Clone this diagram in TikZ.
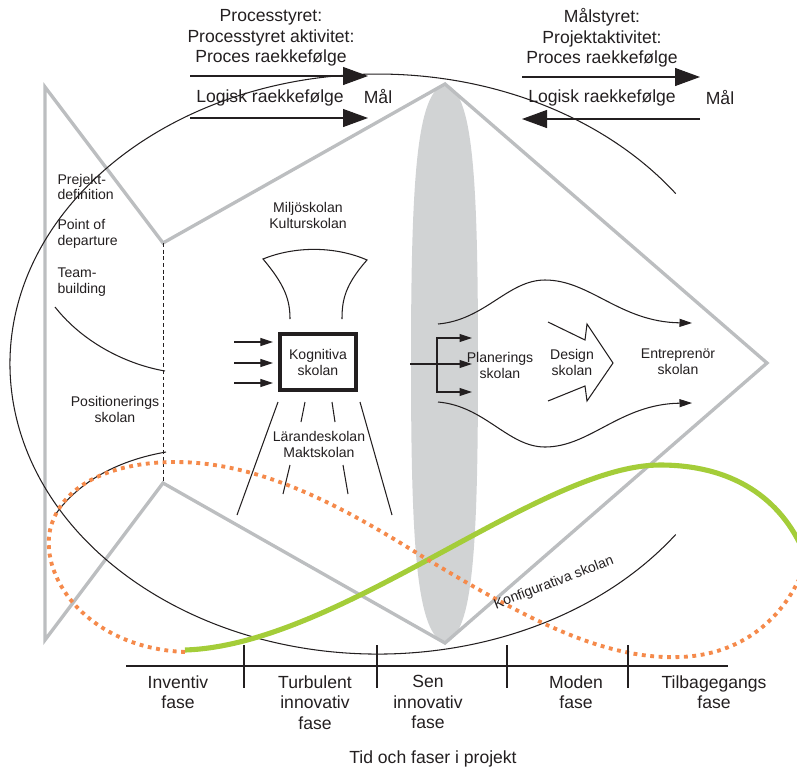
\documentclass[tikz,border=0pt]{standalone}
\usepackage{fontspec}
\setmainfont{Liberation Sans}
\usetikzlibrary{arrows.meta}
\definecolor{cfish}{HTML}{BCBEC0}
\definecolor{clens}{HTML}{D1D3D4}
\definecolor{cgreen}{HTML}{A4CD39}
\definecolor{corange}{HTML}{F58A4B}
\definecolor{cink}{HTML}{231F20}
\tikzset{
  every picture/.style={line width=0.6pt},
  fish/.style={draw=cfish, line width=1.9pt, line join=miter},
  thin/.style={draw=cink, line width=0.6pt},
  axis/.style={draw=cink, line width=1pt},
  bigarrow/.style={-{Triangle[length=5mm, width=3.6mm]}, draw=cink, line width=0.6pt},
  smallarrow/.style={-{Triangle[length=2.5mm, width=1.6mm]}, draw=cink, line width=0.6pt},
  head/.style={font=\fontsize{10}{11.6}\selectfont, text=cink, align=center, inner sep=0pt},
  note/.style={font=\fontsize{8}{9.1}\selectfont, text=cink, align=center, inner sep=0pt},
}
\begin{document}
\begin{tikzpicture}[x=0.02cm, y=-0.02cm]
  \useasboundingbox (0,0) rectangle (797,771);
  \clip (0,0) rectangle (797,771);
  % lens and fish outline
  \fill[clens] (445,84) .. controls (473,92) and (478,175) .. (478,363)
    .. controls (478,550) and (473,634) .. (445,643)
    .. controls (417,634) and (411,550) .. (411,363)
    .. controls (411,175) and (417,92) .. (445,84) -- cycle;
  \draw[fish] (45,87) -- (163,243) -- (445,84) -- (767,363) -- (445,643)
    -- (163,483) -- (45,640) -- cycle;
  % big ellipse, open on the right
  \draw[thin] (675.7,534.5) arc[start angle=36, end angle=324, x radius=368, y radius=290];
  % tail
  \draw[thin, dash pattern=on 2.2pt off 1.6pt, line width=0.5pt] (163,243) -- (163,483);
  \draw[thin] (55,307) .. controls (85,345) and (130,365) .. (165,371);
  \draw[thin] (55,515) .. controls (80,480) and (120,460) .. (166,452);
  \node[note, align=left, anchor=west, font=\fontsize{8}{8.4}\selectfont] (prej) at (57,187) {Prejekt-\\definition};
  \node[note, align=left, anchor=west] (point) at (57,234) {Point of\\departure};
  \node[note, align=left, anchor=west] (team) at (57,282) {Team-\\building};
  \node[note] (pos) at (115,409) {Positionerings\\skolan};

  % top: process and goal steering
  \node[head] (procL) at (271,38) {Processtyret:\\Processtyret aktivitet:\\Proces raekkefølge};
  \node[head] (logL) at (270,98) {Logisk raekkefølge};
  \node[head] (malL) at (378,97) {Mål};
  \node[head] (procR) at (602,38) {Målstyret:\\Projektaktivitet:\\Proces raekkefølge};
  \node[head] (logR) at (602,98) {Logisk raekkefølge};
  \node[head] (malR) at (720,98) {Mål};
  \foreach \i/\xa/\xb/\y in {1/190/368/76, 2/190/368/118, 3/522/700/77, 4/700/522/119} {
    \coordinate (a\i) at (\xa,\y);
    \coordinate (b\i) at (\xb,\y);
    \draw[bigarrow] (a\i) -- (b\i);
  }

  % cognitive school
  \node[note] (milj) at (308,215) {Miljöskolan\\Kulturskolan};
  \draw[thin] (290,319) .. controls (290,300) and (285,285) .. (263,259)
    .. controls (295,246) and (335,246) .. (367,260)
    .. controls (345,285) and (342,300) .. (342,319);
  \node[note, draw=cink, line width=1.8pt, minimum width=1.52cm, minimum height=1.12cm] (kog) at (318,362) {Kognitiva\\skolan};
  \foreach \i/\y in {1/342, 2/363, 3/383} {
    \coordinate (in\i) at (234,\y);
    \draw[smallarrow, shorten >=1.1mm] (in\i) -- (in\i -| kog.west);
  }
  \draw[thin] (278,402) -- (237,515);
  \draw[thin] (305,402) -- (301,422) (290,465) -- (283,494);
  \draw[thin] (332,402) -- (335,422) (343,465) -- (348,494);
  \draw[thin] (360,402) -- (392,515);
  \node[note] (lar) at (319,444) {Lärandeskolan\\Maktskolan};

  % planning, design and entrepreneur schools
  \coordinate (lensin) at (410,364);
  \coordinate (fork) at (437,364);
  \draw[smallarrow] (lensin) -- (472,364);
  \draw[smallarrow] (fork) |- (472,338);
  \draw[smallarrow] (fork) |- (472,392);
  \node[note] (plan) at (500,365) {Planerings\\skolan};
  \node[note] (design) at (572,362) {Design\\skolan};
  \draw[thin, line join=miter] (548,322) -- (585,340) -- (587,324) -- (613,363)
    -- (587,401) -- (585,386) -- (548,401);
  \node[note] (entr) at (678,362) {Entreprenör\\skolan};
  \draw[smallarrow] (438,324) .. controls (485,320) and (508,280) .. (545,280)
    .. controls (590,280) and (620,322) .. (692,323);
  \draw[smallarrow] (438,402) .. controls (485,406) and (508,447) .. (545,447)
    .. controls (590,447) and (620,404) .. (692,403);

  % life cycle curves
  \draw[cgreen, line width=2.9pt] (185,650) .. controls (340,645) and (540,465) .. (660,465)
    .. controls (740,465) and (785,505) .. (805,555);
  \draw[corange, line width=2.2pt, dash pattern=on 2.2pt off 2.6pt] (185,652)
    .. controls (90,648) and (40,580) .. (50,530)
    .. controls (62,480) and (120,462) .. (175,462)
    .. controls (260,462) and (340,505) .. (420,555)
    .. controls (520,615) and (600,660) .. (680,657)
    .. controls (740,655) and (785,620) .. (805,565);
  \node[note, rotate=21] (konf) at (554,583) {Konfigurativa skolan};

  % time axis with phases
  \draw[axis] (126,666) -- (728,666);
  \foreach \x in {244,377,507,628} \draw[axis] (\x,645) -- (\x,688);
  \foreach \i/\x/\name in {1/178/{Inventiv\\fase}, 2/315/{Turbulent\\innovativ\\fase},
      3/428/{Sen\\innovativ\\fase}, 4/576/{Moden\\fase}, 5/714/{Tilbagegangs\\fase}}
    \node[head, anchor=north] (ph\i) at (\x,675) {\name};
  \node[head] (tid) at (433,759) {Tid och faser i projekt};
\end{tikzpicture}
\end{document}
